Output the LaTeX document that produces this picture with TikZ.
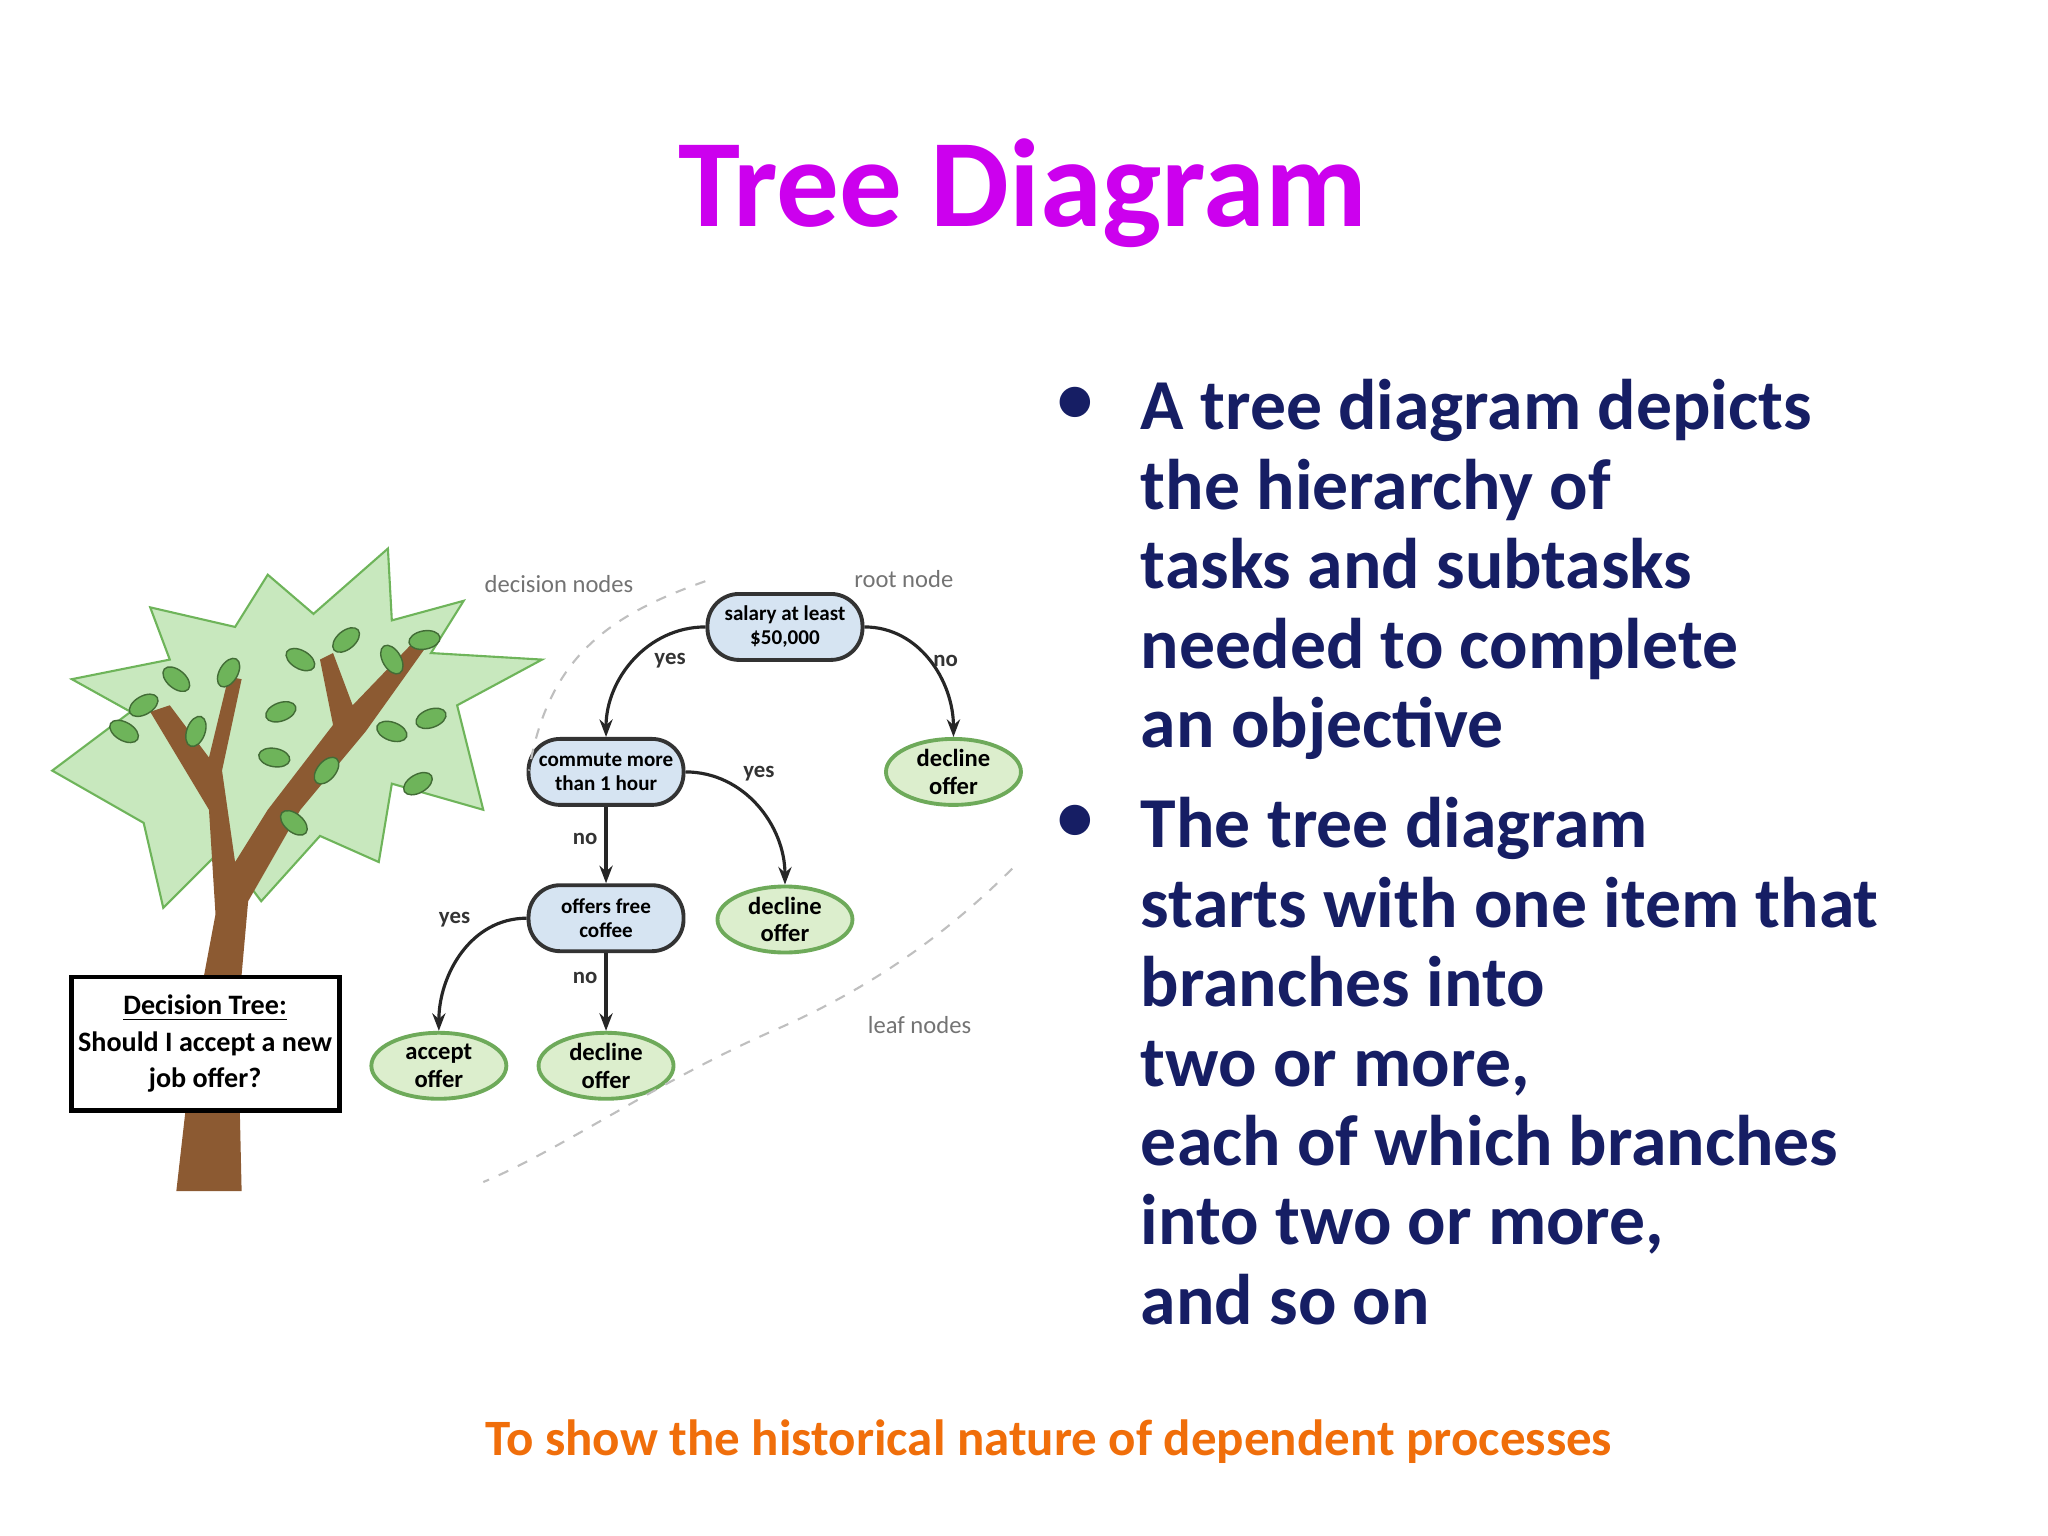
\documentclass[tikz,border=0pt]{standalone}
\usepackage{fontspec}
\setmainfont{Carlito}
\usetikzlibrary{shapes,arrows.meta,positioning}
\definecolor{titlemag}{RGB}{204,0,238}
\definecolor{bodyblue}{RGB}{22,30,100}
\definecolor{footorange}{RGB}{240,110,10}
\definecolor{decfill}{RGB}{214,228,242}
\definecolor{leaffill}{RGB}{220,238,205}
\definecolor{leafline}{RGB}{110,170,90}
\definecolor{canopy}{RGB}{200,232,190}
\definecolor{trunk}{RGB}{140,90,50}
\definecolor{leafgreen}{RGB}{110,180,90}
\tikzset{
  decision/.style={draw=black!80,line width=1.1pt,fill=decfill,rounded corners=9pt,
    minimum width=1.55cm,minimum height=0.66cm,align=center,font=\fontsize{6}{6.8}\selectfont\bfseries,inner sep=1pt},
  leaf/.style={ellipse,draw=leafline,line width=1.1pt,fill=leaffill,minimum width=1.35cm,
    minimum height=0.66cm,align=center,font=\fontsize{7}{7.8}\selectfont\bfseries,inner sep=0pt},
  branch/.style={-{Stealth[length=5pt]},line width=0.9pt,black!85},
  edgelabel/.style={font=\fontsize{6.5}{7}\selectfont\bfseries,black!80},
  note/.style={font=\fontsize{7}{8}\selectfont,black!55},
  hint/.style={dashed,black!25,line width=0.6pt},
  tinyleaf/.style={fill=leafgreen,draw=leafgreen!60!black,line width=0.4pt},
  para/.style={anchor=north west,align=left,font=\fontsize{20.4}{22.6}\selectfont\bfseries,text=bodyblue,inner sep=0pt},
  dot/.style={font=\fontsize{20.4}{22.6}\selectfont\bfseries,text=bodyblue,inner sep=0pt}
}
\begin{document}
\begin{tikzpicture}[x=0.01306cm,y=-0.01306cm]
\useasboundingbox (0,0) rectangle (1568,1176);
% title and text
\node[font=\fontsize{35.6}{40}\selectfont\bfseries,text=titlemag] (title) at (783,148) {Tree Diagram};
\node[para] (firstpara) at (873,290) {A tree diagram depicts\\ the hierarchy of\\ tasks and subtasks\\ needed to complete\\ an objective};
\node[dot] (firstdot) at (823,310) {\textbullet};
\node[para] (secondpara) at (873,610) {The tree diagram\\ starts with one item that\\ branches into\\ two or more,\\ each of which branches\\ into two or more,\\ and so on};
\node[dot] (seconddot) at (823,630) {\textbullet};
\node[font=\fontsize{14.5}{16}\selectfont\bfseries,text=footorange] (foot) at (803,1104) {To show the historical nature of dependent processes};
% tree picture
\draw[fill=canopy,draw=leafgreen,line width=0.6pt] (40,590) -- (100,545) -- (55,520) -- (130,505) -- (115,465) -- (180,480)
  -- (205,440) -- (240,470) -- (297,420) -- (300,475) -- (355,460) -- (330,500) -- (415,505) -- (350,540)
  -- (370,620) -- (300,600) -- (290,660) -- (245,640) -- (200,690) -- (170,650) -- (125,695) -- (110,630) -- cycle;
\fill[trunk] (135,912) -- (185,912) -- (182,780) -- (190,690) -- (230,620) -- (280,560) -- (330,490) -- (320,488)
  -- (270,540) -- (255,500) -- (245,505) -- (255,555) -- (205,620) -- (180,660) -- (170,590) -- (185,520) -- (175,518)
  -- (160,580) -- (130,540) -- (115,545) -- (160,620) -- (165,700) -- (150,780) -- cycle;
\foreach \lx/\ly/\la in {110/540/30,135/520/-40,175/515/60,215/545/20,230/505/-30,265/490/40,300/505/-60,325/490/10,
  320/600/30,300/560/-20,250/590/50,210/580/-10,150/560/70,95/560/-30,330/550/20,225/630/-40}
  \fill[tinyleaf,rotate around={\la:(\lx,\ly)}] (\lx,\ly) ellipse (12 and 7);
\draw[line width=1.4pt,fill=white] (55,748) rectangle (260,850);
\node[align=center,font=\fontsize{8}{10.5}\selectfont\bfseries] (caption) at (157,799) {\underline{Decision Tree:}\\Should I accept a new\\job offer?};
% decision tree
\node[decision] (root) at (601,480) {salary at least\\\$50,000};
\node[decision] (commute) at (464,591) {commute more\\than 1 hour};
\node[decision] (coffee) at (464,703) {offers free\\coffee};
\node[leaf] (declineA) at (730,591) {decline\\offer};
\node[leaf] (declineB) at (601,704) {decline\\offer};
\node[leaf] (accept) at (336,816) {accept\\offer};
\node[leaf] (declineC) at (464,816) {decline\\offer};
\draw[branch] (root.west) to[out=180,in=90] (commute.north);
\draw[branch] (root.east) to[out=0,in=90] (declineA.north);
\draw[branch] (commute.east) to[out=0,in=90] (declineB.north);
\draw[branch] (commute.south) -- (coffee.north);
\draw[branch] (coffee.west) to[out=180,in=90] (accept.north);
\draw[branch] (coffee.south) -- (declineC.north);
\node[edgelabel] (y1) at (513,506) {yes};
\node[edgelabel] (n1) at (724,506) {no};
\node[edgelabel] (y2) at (581,592) {yes};
\node[edgelabel] (n2) at (448,642) {no};
\node[edgelabel] (y3) at (348,704) {yes};
\node[edgelabel] (n3) at (448,749) {no};
\node[note] (decnote) at (428,447) {decision nodes};
\node[note] (rootnote) at (692,443) {root node};
\node[note] (leafnote) at (704,785) {leaf nodes};
\draw[hint] (540,445) .. controls (470,470) and (420,500) .. (405,590);
\draw[hint] (775,665) .. controls (720,720) and (660,760) .. (590,790) .. controls (500,830) and (430,880) .. (370,905);
\end{tikzpicture}
\end{document}
